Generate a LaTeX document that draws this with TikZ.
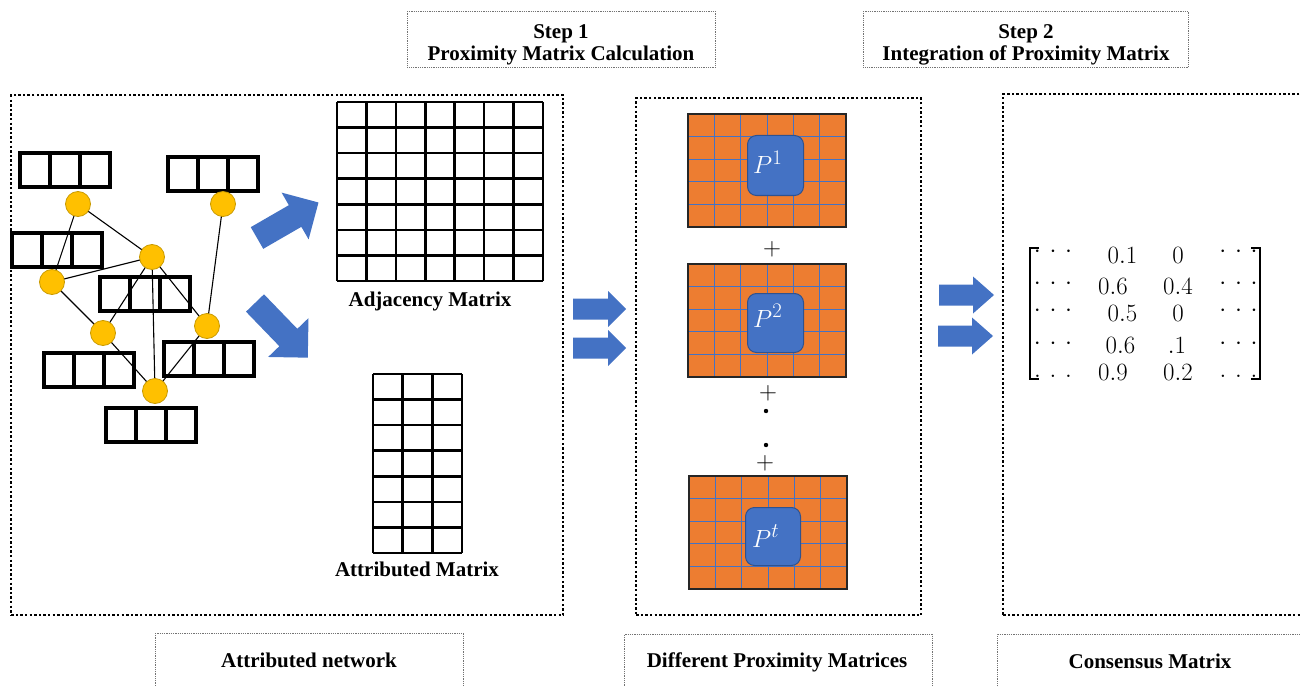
\documentclass[tikz,border=0pt]{standalone}
\usepackage{fontspec}
\setmainfont{Liberation Serif}
\usetikzlibrary{calc}

\definecolor{accblue}{HTML}{4472C4}
\definecolor{accblueD}{HTML}{2F528F}
\definecolor{accorange}{HTML}{ED7D31}
\definecolor{nodeyellow}{HTML}{FFC000}
\definecolor{nodeyellowD}{HTML}{C99A00}

% block arrow: name, x, y, angle, length, head length, half head width, half shaft width
\newcommand\blockarrow[8]{%
  \begin{scope}[shift={(#2,#3)}, rotate=#4]
    \fill[accblue] (0,-#8) -- ({#5-#6},-#8) -- ({#5-#6},-#7) -- (#5,0)
      -- ({#5-#6},#7) -- ({#5-#6},#8) -- (0,#8) -- cycle;
    \coordinate (#1) at (#5,0);
  \end{scope}}

% three attribute cells of a network node
\newcommand\attrcells[2]{%
  \foreach \k in {0,1,2}
    \draw[cellline] ({#1+\k*30},#2) rectangle ++(30,34);}

% orange proximity matrix with 6x5 cells
\newcommand\proxgrid[2]{%
  \fill[accorange] (#1,#2) rectangle ++(158,113);
  \foreach \k in {1,...,5}
    \draw[accblue, line width=1pt] ({#1+\k*158/6},#2) -- ++(0,113);
  \foreach \k in {1,...,4}
    \draw[accblue, line width=1pt] (#1,{#2+\k*113/5}) -- ++(158,0);
  \draw[black!85, line width=1.3pt] (#1,#2) rectangle ++(158,113);}

\newcommand\threecdots{$\cdotp\mkern3.3mu\cdotp\mkern3.3mu\cdotp$}
\newcommand\threeldots{$\ldotp\mkern3.3mu\ldotp\mkern3.3mu\ldotp$}

\begin{document}
\begin{tikzpicture}[x=1pt,y=-1pt,
  panel/.style={draw=black, line width=2.4pt, dash pattern=on 2.4pt off 2.2pt,
    inner sep=0pt, anchor=north west},
  labelbox/.style={draw=black!55, line width=0.9pt, dash pattern=on 1pt off 0.8pt,
    inner sep=0pt, anchor=north west},
  caption/.style={font=\fontsize{21}{22}\selectfont\bfseries, inner sep=0pt, anchor=base},
  cellline/.style={line width=3.8pt, line join=miter},
  gridline/.style={line width=2.6pt},
  gnode/.style={circle, fill=nodeyellow, draw=nodeyellowD, line width=0.8pt,
    minimum size=25pt, inner sep=0pt},
  gedge/.style={line width=1.1pt},
  pbox/.style={fill=accblue, draw=accblueD, line width=1pt, rounded corners=9pt,
    inner sep=0pt, anchor=north west},
  plabel/.style={text=white, font=\fontsize{32}{32}\selectfont, inner sep=0pt, anchor=base west},
  plus/.style={font=\fontsize{24}{24}\selectfont, inner sep=0pt},
  mnum/.style={font=\fontsize{27}{27}\selectfont, inner sep=0pt, anchor=base},
  mdots/.style={font=\fontsize{26}{26}\selectfont, inner sep=0pt, anchor=base},
]
\useasboundingbox (0,0) rectangle (1300,687);
\fill[white] (0,0) rectangle (1300,687);

% ---------- step headings ----------
\node[labelbox, minimum width=308pt, minimum height=56pt] (step1box) at (407,11) {};
\node[caption] (step1a) at (561,39) {Step 1};
\node[caption] (step1b) at (561,61) {Proximity Matrix Calculation};
\node[labelbox, minimum width=325pt, minimum height=56pt] (step2box) at (863,11) {};
\node[caption] (step2a) at (1026,39) {Step 2};
\node[caption] (step2b) at (1026,61) {Integration of Proximity Matrix};

% ---------- panels ----------
\node[panel, minimum width=552pt, minimum height=520pt] (netpanel) at (10,94) {};
\node[panel, minimum width=285pt, minimum height=517pt] (proxpanel) at (635,97) {};
\node[panel, minimum width=320pt, minimum height=521pt] (conspanel) at (1002,93) {};

% ---------- captions below ----------
\node[labelbox, minimum width=308pt, minimum height=54pt] (cap1box) at (155,633) {};
\node[caption] (cap1) at (309,667) {Attributed network};
\node[labelbox, minimum width=308pt, minimum height=53pt] (cap2box) at (624,634) {};
\node[caption] (cap2) at (777,667) {Different Proximity Matrices};
\node[labelbox, minimum width=320pt, minimum height=53pt] (cap3box) at (997,634) {};
\node[caption] (cap3) at (1150,668) {Consensus Matrix};

% ---------- attributed network ----------
\attrcells{20}{153}
\attrcells{168}{157}
\attrcells{12}{233}
\attrcells{100}{277}
\attrcells{44}{353}
\attrcells{164}{342}
\attrcells{106}{408}

\coordinate (pA) at (78,204);
\coordinate (pB) at (223,204);
\coordinate (pC) at (152,257);
\coordinate (pD) at (52,282);
\coordinate (pE) at (103,333);
\coordinate (pF) at (207,326);
\coordinate (pG) at (155,391);
\foreach \u/\v in {A/C, A/D, D/C, D/E, E/G, E/C, C/G, C/F, B/F, F/G}
  \draw[gedge] (p\u) -- (p\v);
\foreach \u in {A,B,C,D,E,F,G}
  \node[gnode] (n\u) at (p\u) {};

% arrows towards the two matrices
\blockarrow{toadj}{257}{238}{30}{71}{27}{27}{12.5}
\blockarrow{toattr}{255}{303}{-46}{76}{28}{28}{12.5}

% adjacency matrix 7x7
\foreach \k in {0,...,7} {
  \draw[gridline] ({337+\k*206/7},102) -- ({337+\k*206/7},281);
  \draw[gridline] (337,{102+\k*179/7}) -- (543,{102+\k*179/7});
}
\node[caption] (adjlabel) at (430,306) {Adjacency Matrix};

% attribute matrix 7x3
\foreach \k in {0,...,3}
  \draw[gridline] ({373+\k*89/3},374) -- ({373+\k*89/3},553);
\foreach \k in {0,...,7}
  \draw[gridline] (373,{374+\k*179/7}) -- (462,{374+\k*179/7});
\node[caption] (attrlabel) at (417,576) {Attributed Matrix};

% ---------- arrows into the proximity panel ----------
\blockarrow{inprox1}{573}{309}{0}{53}{18}{18}{10.5}
\blockarrow{inprox2}{573}{348}{0}{53}{18}{18}{10.5}

% ---------- proximity matrices ----------
\proxgrid{688}{114}
\node[pbox, minimum width=56pt, minimum height=60pt] (sq1) at (747,135) {};
\node[plabel] (lab1) at (753,174) {$P^1$};
\node[plus] (plus1) at (772,249) {$+$};

\proxgrid{688}{264}
\node[pbox, minimum width=56pt, minimum height=59pt] (sq2) at (747,293) {};
\node[plabel] (lab2) at (753,327) {$P^2$};
\node[plus] (plus2) at (768,393) {$+$};
\fill (766,411) circle (2.2);
\fill (766,445) circle (2.2);
\node[plus] (plus3) at (765,463) {$+$};

\proxgrid{689}{476}
\node[pbox, minimum width=55pt, minimum height=58pt] (sqt) at (745,507) {};
\node[plabel] (labt) at (752,547) {$P^t$};

% ---------- arrows into the consensus panel ----------
\blockarrow{incons1}{939}{295}{0}{55}{21}{18.5}{10.5}
\blockarrow{incons2}{938}{336}{0}{55}{21}{18.5}{10.5}

% ---------- consensus matrix ----------
\draw[line width=1.8pt] (1039,248) -- (1030,248) -- (1030,379) -- (1039,379);
\draw[line width=1.8pt] (1251,248) -- (1260,248) -- (1260,379) -- (1251,379);

\node[mnum] (m12) at (1122.5,263) {$0.1$};
\node[mnum] (m13) at (1178,263) {$0$};
\node[mnum] (m22) at (1113,294) {$0.6$};
\node[mnum] (m23) at (1178,294) {$0.4$};
\node[mnum] (m32) at (1122.5,321) {$0.5$};
\node[mnum] (m33) at (1178,321) {$0$};
\node[mnum] (m42) at (1120.5,353) {$0.6$};
\node[mnum] (m43) at (1177,353) {$.1$};
\node[mnum] (m52) at (1113,380) {$0.9$};
\node[mnum] (m53) at (1178,380) {$0.2$};

\foreach \r/\yy in {1/257.5, 2/289.5, 3/316.5, 4/349.5} {
  \node[mdots] (d\r a) at (1053,\yy) {\threecdots};
  \node[mdots] (d\r b) at (1238.5,\yy) {\threecdots};
}
\node[mdots] (d5a) at (1053,377) {\threeldots};
\node[mdots] (d5b) at (1238.5,377) {\threeldots};
\end{tikzpicture}
\end{document}
